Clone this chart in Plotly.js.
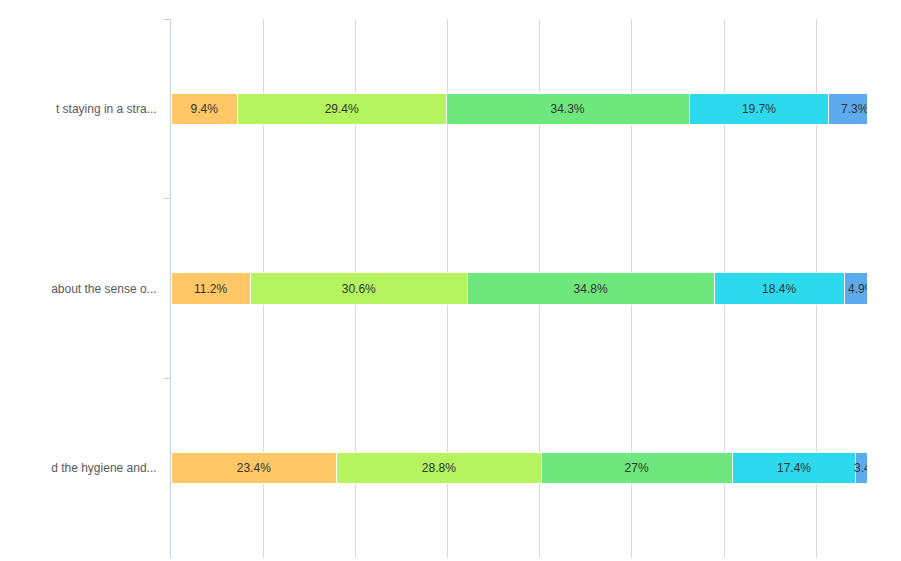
<!DOCTYPE html>
<html>
<head>
<meta charset="utf-8">
<script src="https://cdn.plot.ly/plotly-3.0.1.min.js"></script>
<style>html,body{margin:0;padding:0;background:#fff;}#chart{width:901px;height:561px;}</style>
</head>
<body>
<div id="chart"></div>
<script>
var categories = ["t staying in a stra...", "about the sense o...", "d the hygiene and..."];
var series1 = [9.4, 11.2, 23.4];
var series2 = [29.4, 30.6, 28.8];
var series3 = [34.3, 34.8, 27];
var series4 = [19.7, 18.4, 17.4];
var series5 = [7.3, 4.9, 3.4];
var seriesLabels = [["9.4%","11.2%","23.4%"],["29.4%","30.6%","28.8%"],["34.3%","34.8%","27%"],["19.7%","18.4%","17.4%"],["7.3%","4.9%","3.4%"]];
var colors = ["#FFC766", "#B5F45E", "#6EE77D", "#2DD9EC", "#5DAAEE"];
var allSeries = [series1, series2, series3, series4, series5];

var traces = allSeries.map(function (vals, i) {
  return {
    type: "bar",
    orientation: "h",
    y: categories,
    x: vals,
    text: seriesLabels[i],
    textposition: "inside",
    insidetextanchor: "middle",
    constraintext: "none",
    textangle: 0,
    textfont: {family: "Liberation Sans, Arial, sans-serif", size: 12, color: "#333333"},
    marker: {color: colors[i], line: {color: "#ffffff", width: 1}},
    hoverinfo: "x+y",
    showlegend: false
  };
});

var layout = {
  width: 901,
  height: 561,
  barmode: "stack",
  bargap: 0.826,
  margin: {l: 171, r: 34, t: 19, b: 3, pad: 0},
  paper_bgcolor: "#ffffff",
  plot_bgcolor: "#ffffff",
  xaxis: {
    range: [0, 98.17],
    dtick: 13,
    tick0: 0,
    showticklabels: false,
    showgrid: true,
    gridcolor: "#d9d9d9",
    gridwidth: 1,
    zeroline: false,
    showline: false,
    ticks: ""
  },
  yaxis: {
    type: "category",
    autorange: "reversed",
    showline: true,
    linecolor: "#c3d1e0",
    linewidth: 1,
    ticks: "outside",
    tickson: "boundaries",
    ticklen: 6,
    tickcolor: "#c3d1e0",
    showgrid: false,
    zeroline: false,
    ticklabelstandoff: 11,
    tickfont: {family: "Liberation Sans, Arial, sans-serif", size: 12, color: "#595959"}
  }
};

Plotly.newPlot("chart", traces, layout, {displayModeBar: false, staticPlot: true});
</script>
</body>
</html>
